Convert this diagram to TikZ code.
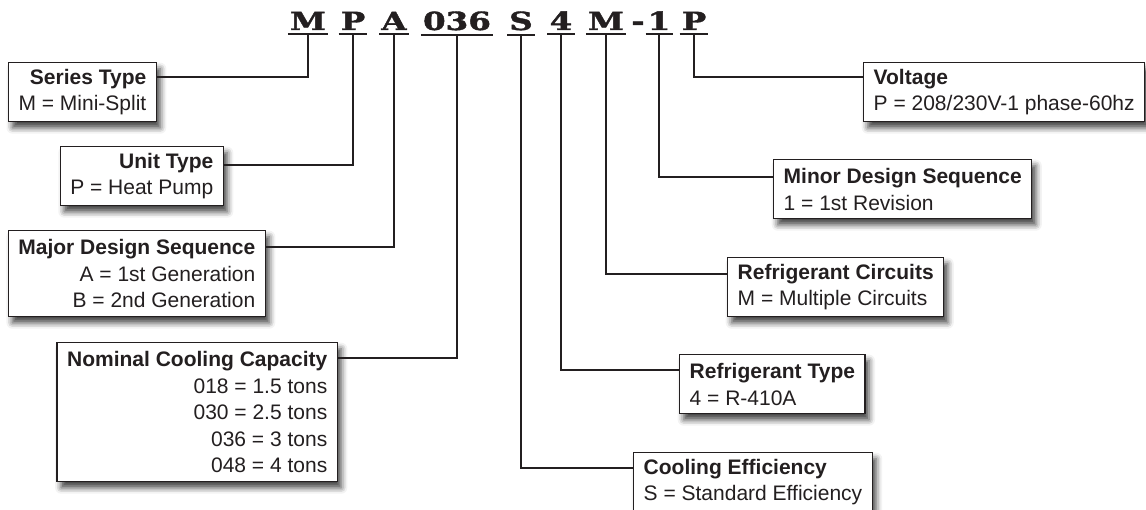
\documentclass[tikz,border=0pt]{standalone}
\usepackage{fontspec}
\setmainfont{Liberation Sans}
\newfontfamily\codefont{DejaVu Serif}[BoldFeatures={FakeBold=1.5}]
\usepackage{graphicx}
\usetikzlibrary{positioning,shadows,shadows.blur}
\definecolor{inkdark}{HTML}{231F20}

\begin{document}
\begin{tikzpicture}[x=1pt, y=-1pt,
  codeletter/.style={font=\codefont\bfseries\fontsize{25}{25}\selectfont, text=inkdark,
    anchor=base, inner xsep=2pt, inner ysep=4pt},
  keybox/.style={draw=inkdark, line width=1.4pt, fill=white, text=inkdark,
    font=\fontsize{21}{26.6}\selectfont, inner xsep=10pt, inner ysep=0pt,
    blur shadow={shadow xshift=4pt, shadow yshift=-6pt, shadow blur radius=6pt, shadow opacity=75}},
  leftbox/.style={keybox, align=right, anchor=north east},
  rightbox/.style={keybox, align=left, anchor=north west},
  twolines/.style={minimum height=59pt},
  conn/.style={draw=inkdark, line width=2pt}]
  \useasboundingbox (0,0) rectangle (1146,510);
  % model number
  \node[codeletter] (cM)   at (308,30) {\scalebox{1.3}[1]{M}};
  \node[codeletter] (cP)   at (353,30) {\scalebox{1.3}[1]{P}};
  \node[codeletter] (cA)   at (394,30) {\scalebox{1.3}[1]{A}};
  \node[codeletter] (cCap) at (457,30) {\scalebox{1.3}[1]{036}};
  \node[codeletter] (cS)   at (521,30) {\scalebox{1.3}[1]{S}};
  \node[codeletter] (c4)   at (561,30) {\scalebox{1.3}[1]{4}};
  \node[codeletter] (cMc)  at (606,30) {\scalebox{1.3}[1]{M}};
  \node[codeletter] (cDash) at (638,30) {\scalebox{1.3}[1]{-}};
  \node[codeletter] (c1)   at (659,30) {\scalebox{1.3}[1]{1}};
  \node[codeletter] (cV)   at (694,30) {\scalebox{1.3}[1]{P}};
  \foreach \c in {cM,cP,cA,cCap,cS,c4,cMc,c1,cV}
    \draw[line width=2pt, inkdark] (\c.south west) -- (\c.south east);
  % left side
  \node[leftbox, twolines] (series) at (157,62)
    {\textbf{Series Type}\\M = Mini-Split};
  \node[leftbox, twolines] (unit) at (224,146)
    {\textbf{Unit Type}\\P = Heat Pump};
  \node[leftbox, minimum height=86pt] (major) at (266,230)
    {\textbf{Major Design Sequence}\\A = 1st Generation\\B = 2nd Generation};
  \node[leftbox, minimum height=139pt] (nominal) at (338,342)
    {\textbf{Nominal Cooling Capacity}\\018 = 1.5 tons\\030 = 2.5 tons\\036 = 3 tons\\048 = 4 tons};
  % right side
  \node[rightbox, twolines] (voltage) at (863,62)
    {\textbf{Voltage}\\P = 208/230V-1 phase-60hz};
  \node[rightbox, twolines] (minor) at (773,159)
    {\textbf{Minor Design Sequence}\\1 = 1st Revision};
  \node[rightbox, twolines] (circuits) at (727,257)
    {\textbf{Refrigerant Circuits}\\M = Multiple Circuits};
  \node[rightbox, twolines] (refrig) at (679,354)
    {\textbf{Refrigerant Type}\\4 = R-410A};
  \node[rightbox, twolines] (cooling) at (633,452)
    {\textbf{Cooling Efficiency}\\S = Standard Efficiency};
  % connectors
  \draw[conn] (cM.south)   |- ([yshift=-15pt]series.north east);
  \draw[conn] (cP.south)   |- ([yshift=-19pt]unit.north east);
  \draw[conn] (cA.south)   |- ([yshift=-17pt]major.north east);
  \draw[conn] (cCap.south) |- ([yshift=-16pt]nominal.north east);
  \draw[conn] (cS.south)   |- ([yshift=-16pt]cooling.north west);
  \draw[conn] (c4.south)   |- ([yshift=-16pt]refrig.north west);
  \draw[conn] (cMc.south)  |- ([yshift=-17pt]circuits.north west);
  \draw[conn] (c1.south)   |- ([yshift=-18pt]minor.north west);
  \draw[conn] (cV.south)   |- ([yshift=-15pt]voltage.north west);
\end{tikzpicture}
\end{document}
